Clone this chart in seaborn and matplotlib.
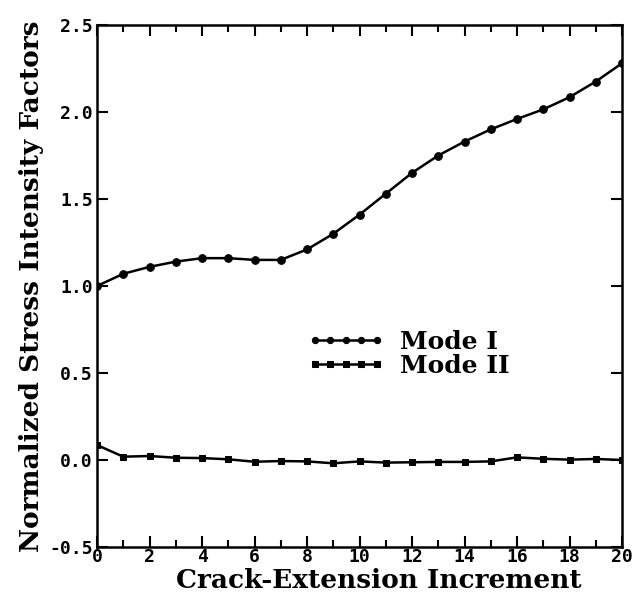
import matplotlib
matplotlib.use("Agg")
import matplotlib.pyplot as plt
import seaborn as sns
import pandas as pd
from matplotlib.ticker import MultipleLocator

increments = list(range(0, 21))
mode_i = [1.00, 1.07, 1.11, 1.14, 1.16, 1.16, 1.15, 1.15, 1.21, 1.30, 1.41,
          1.53, 1.65, 1.75, 1.83, 1.90, 1.96, 2.015, 2.085, 2.175, 2.28]
mode_ii = [0.086, 0.019, 0.023, 0.013, 0.011, 0.004, -0.010, -0.006, -0.008,
           -0.019, -0.008, -0.015, -0.013, -0.011, -0.011, -0.008, 0.015,
           0.007, 0.002, 0.006, 0.0]
series_names = ["Mode I", "Mode II"]
x_ticks = list(range(0, 21, 2))
y_ticks = [-0.5, 0.0, 0.5, 1.0, 1.5, 2.0, 2.5]

df_i = pd.DataFrame({"x": increments, "y": mode_i})
df_ii = pd.DataFrame({"x": increments, "y": mode_ii})

sns.set_style("ticks")
plt.rcParams["font.family"] = ["DejaVu Sans Mono"]
for k in ["text.color", "axes.labelcolor", "xtick.color", "ytick.color", "axes.edgecolor"]:
    plt.rcParams[k] = "black"

fig = plt.figure(figsize=(6.36, 5.96), dpi=100)
ax = fig.add_axes([97 / 636, 1 - 547 / 596, 525 / 636, 522 / 596])

sns.lineplot(data=df_i, x="x", y="y", marker="o", color="black", linewidth=1.8,
             markersize=5.5, markeredgecolor="black", ax=ax, label=series_names[0])
sns.lineplot(data=df_ii, x="x", y="y", marker="s", color="black", linewidth=1.8,
             markersize=4.5, markeredgecolor="black", ax=ax, label=series_names[1])

ax.set_xlim(0, 20)
ax.set_ylim(-0.5, 2.5)
ax.set_xticks(x_ticks)
ax.xaxis.set_minor_locator(MultipleLocator(1))
ax.set_yticks(y_ticks)
ax.set_yticklabels([f"{v:.1f}" for v in y_ticks])
ax.tick_params(axis="both", which="major", direction="in", length=8, width=1.5,
               top=True, right=True, labelsize=13, pad=3)
ax.tick_params(axis="x", which="major", pad=1)
ax.tick_params(axis="x", which="minor", direction="in", length=5, width=1.5, top=True)
for lab in ax.get_xticklabels() + ax.get_yticklabels():
    lab.set_fontweight("bold")
for s in ax.spines.values():
    s.set_linewidth(1.8)
    s.set_color("black")

ax.set_xlabel("Crack-Extension Increment", fontsize=19, fontweight="bold",
              family="DejaVu Serif")
ax.xaxis.set_label_coords(0.537, -0.041, transform=ax.transAxes)
ax.xaxis.label.set_verticalalignment("top")
ax.set_ylabel("Normalized Stress Intensity Factors", fontsize=19, fontweight="bold",
              family="DejaVu Serif", labelpad=4)

handles, labels = ax.get_legend_handles_labels()
leg = ax.legend(handles, labels, loc="center left", bbox_to_anchor=(0.40, 0.37),
                frameon=False, handlelength=3.1, numpoints=5, handletextpad=0.6,
                labelspacing=0.0, borderpad=0, borderaxespad=0,
                prop={"family": "DejaVu Serif", "weight": "bold", "size": 18})
for h in leg.legend_handles:
    h.set_markersize(4.5)

fig.savefig("out.png", dpi=100)
